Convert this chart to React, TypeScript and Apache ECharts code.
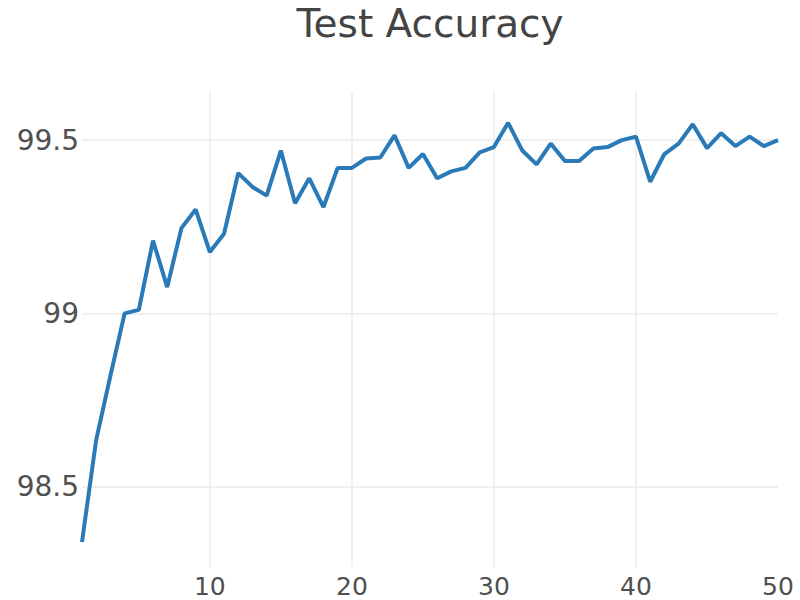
import React, { useEffect, useRef } from "react";
import * as echarts from "echarts";

const titleText = "Test Accuracy";
const epochs = [
  1, 2, 3, 4, 5, 6, 7, 8, 9, 10, 11, 12, 13, 14, 15, 16, 17, 18, 19, 20, 21, 22, 23, 24, 25,
  26, 27, 28, 29, 30, 31, 32, 33, 34, 35, 36, 37, 38, 39, 40, 41, 42, 43, 44, 45, 46, 47, 48, 49, 50,
];
const accuracy = [
  98.34, 98.635, 98.82, 99.0, 99.01, 99.21, 99.076, 99.246, 99.3, 99.177,
  99.23, 99.405, 99.365, 99.34, 99.47, 99.318, 99.39, 99.307, 99.42, 99.42,
  99.447, 99.45, 99.514, 99.42, 99.46, 99.39, 99.41, 99.42, 99.465, 99.48,
  99.55, 99.47, 99.43, 99.49, 99.44, 99.44, 99.476, 99.48, 99.5, 99.51,
  99.38, 99.46, 99.49, 99.546, 99.477, 99.52, 99.483, 99.51, 99.483, 99.5,
];
const yRange = [98.268, 99.639];
const xRange = [1, 50];

export default function App() {
  const ref = useRef<HTMLDivElement>(null);
  useEffect(() => {
    document.body.style.margin = "0";
    if (!ref.current) return;
    const chart = echarts.init(ref.current, undefined, { renderer: "svg" });
    const labelColor = "#505050";
    chart.setOption({
      animation: false,
      backgroundColor: "#fff",
      title: {
        text: titleText,
        left: 430,
        textAlign: "center",
        top: 3,
        padding: 0,
        textStyle: {
          fontFamily: "DejaVu Sans",
          fontSize: 39,
          lineHeight: 40,
          fontWeight: "normal",
          color: "#444",
        },
      },
      grid: { left: 82, right: 22, top: 92, bottom: 33, containLabel: false },
      xAxis: {
        type: "value",
        min: xRange[0],
        max: xRange[1],
        minInterval: 10,
        maxInterval: 10,
        axisLine: { show: false },
        axisTick: { show: false },
        axisLabel: {
          showMinLabel: false,
          showMaxLabel: true,
          margin: 7,
          fontFamily: "DejaVu Sans",
          fontSize: 25,
          color: labelColor,
        },
        splitLine: {
          show: true,
          showMinLine: false,
          showMaxLine: false,
          lineStyle: { color: "#ebebeb", width: 1.5 },
        },
      },
      yAxis: {
        type: "value",
        min: yRange[0],
        max: yRange[1],
        minInterval: 0.5,
        maxInterval: 0.5,
        axisLine: { show: false },
        axisTick: { show: false },
        axisLabel: {
          showMinLabel: false,
          showMaxLabel: false,
          margin: 3,
          fontFamily: "DejaVu Sans",
          fontSize: 28,
          color: labelColor,
          formatter: (v: number) => String(Math.round(v * 10) / 10),
        },
        splitLine: {
          show: true,
          showMinLine: false,
          showMaxLine: false,
          lineStyle: { color: "#ebebeb", width: 1.5 },
        },
      },
      series: [
        {
          type: "line",
          data: epochs.map((e, i) => [e, accuracy[i]]),
          showSymbol: false,
          symbol: "none",
          lineStyle: { color: "#2a7ab8", width: 4 },
          itemStyle: { color: "#2a7ab8" },
        },
      ],
    });
    return () => chart.dispose();
  }, []);
  return <div ref={ref} style={{ width: 800, height: 600 }} />;
}
